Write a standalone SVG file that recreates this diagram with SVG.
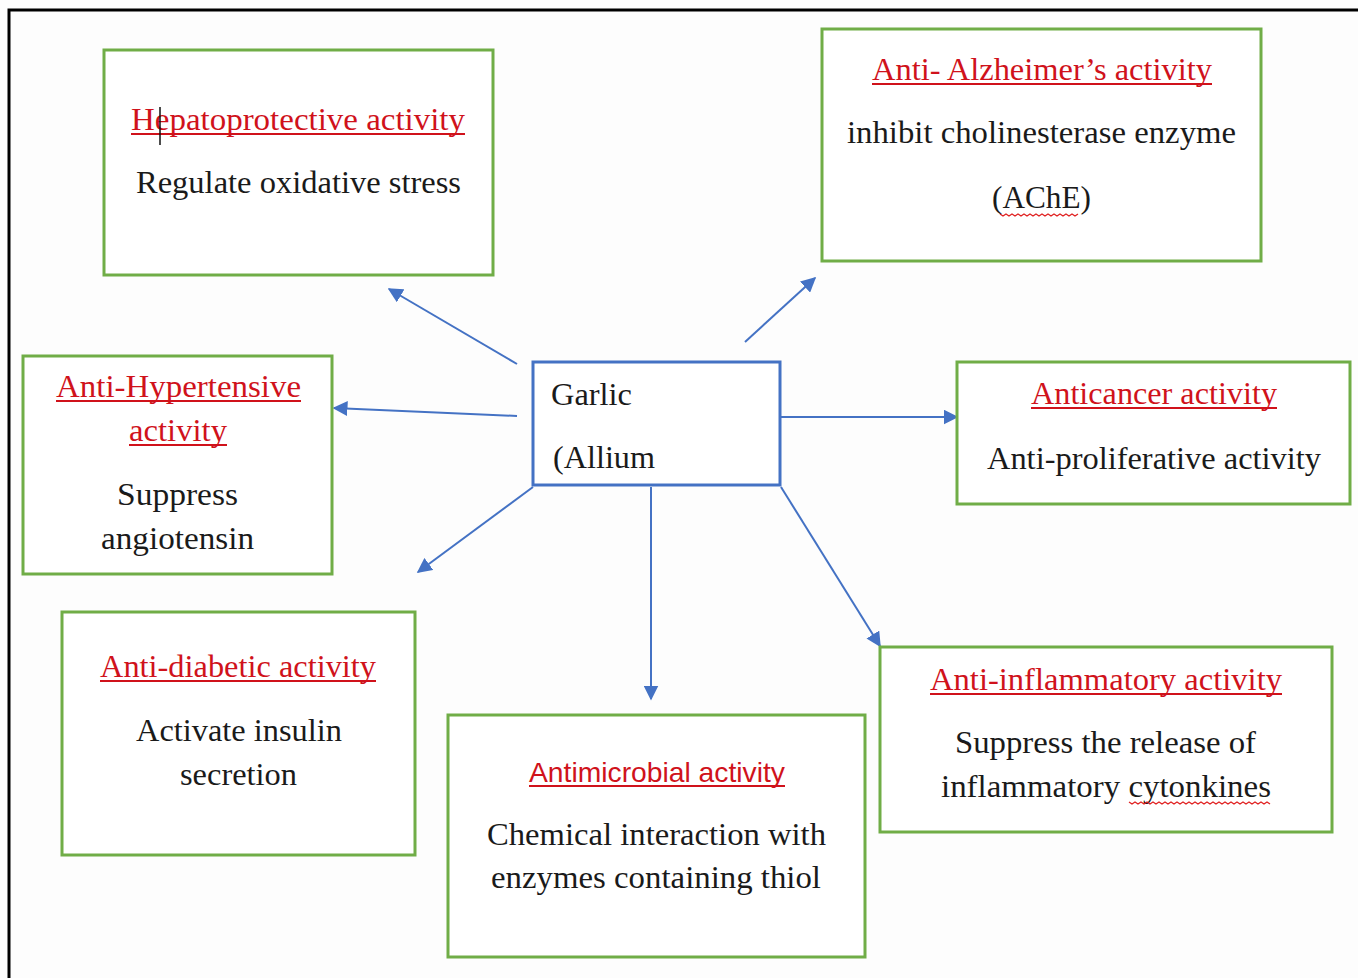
<svg xmlns="http://www.w3.org/2000/svg" width="1358" height="978" viewBox="0 0 1358 978">
<defs>
<style>
.bg{fill:#fdfdfd}
.box{fill:#ffffff;stroke:#70AD47;stroke-width:3}
.core{fill:#ffffff;stroke:#4472C4;stroke-width:3}
.t{font-family:"Liberation Serif","Times New Roman",serif;font-size:31px;fill:#1a1a1a}
.h{font-family:"Liberation Serif","Times New Roman",serif;font-size:31px;fill:#D0121B}
.hs{font-family:"Liberation Sans",Arial,sans-serif;font-size:28px;fill:#D0121B}
.ul{stroke:#D0121B;stroke-width:2;fill:none}
.wavy{stroke:#E02020;stroke-width:1.3;fill:none}
.conn{stroke:#4472C4;stroke-width:2;fill:none}
</style>
<marker id="ah" viewBox="0 0 10 10" refX="9" refY="5" markerWidth="7.5" markerHeight="7.5" markerUnits="strokeWidth" orient="auto">
<path d="M0,0 L10,5 L0,10 z" fill="#4472C4"/>
</marker>
</defs>
<rect class="bg" x="0" y="0" width="1358" height="978"/>
<path d="M9,978 V10 H1358" fill="none" stroke="#000" stroke-width="3"/>

<g id="connectors">
<line class="conn" x1="517" y1="364" x2="389" y2="289" marker-end="url(#ah)"/>
<line class="conn" x1="745" y1="342" x2="815" y2="278" marker-end="url(#ah)"/>
<line class="conn" x1="517" y1="416" x2="334" y2="408" marker-end="url(#ah)"/>
<line class="conn" x1="781" y1="417" x2="957" y2="417" marker-end="url(#ah)"/>
<line class="conn" x1="533" y1="487" x2="418" y2="572" marker-end="url(#ah)"/>
<line class="conn" x1="651" y1="487" x2="651" y2="699" marker-end="url(#ah)"/>
<line class="conn" x1="781" y1="487" x2="880" y2="646" marker-end="url(#ah)"/>
</g>

<g id="hepatoprotective">
<rect class="box" x="104" y="50" width="389" height="225"/>
<text class="h" x="131" y="130" textLength="334" lengthAdjust="spacingAndGlyphs">Hepatoprotective activity</text>
<line class="ul" x1="131" y1="134" x2="465" y2="134"/>
<line x1="160" y1="107" x2="160" y2="145" stroke="#111" stroke-width="1.5"/>
<text class="t" x="136" y="193" textLength="325" lengthAdjust="spacingAndGlyphs">Regulate oxidative stress</text>
</g>

<g id="alzheimer">
<rect class="box" x="822" y="29" width="439" height="232"/>
<text class="h" x="872" y="80" textLength="340" lengthAdjust="spacingAndGlyphs">Anti- Alzheimer’s activity</text>
<line class="ul" x1="872" y1="84" x2="1212" y2="84"/>
<text class="t" x="847" y="143" textLength="389" lengthAdjust="spacingAndGlyphs">inhibit cholinesterase enzyme</text>
<text class="t" x="992" y="208" textLength="99" lengthAdjust="spacingAndGlyphs">(AChE)</text>
<path class="wavy" d="M1000,214 l3,2 l3,-2 l3,2 l3,-2 l3,2 l3,-2 l3,2 l3,-2 l3,2 l3,-2 l3,2 l3,-2 l3,2 l3,-2 l3,2 l3,-2 l3,2 l3,-2 l3,2 l3,-2 l3,2 l3,-2 l3,2 l3,-2 l3,2 l3,-2"/>
</g>

<g id="garlic">
<rect class="core" x="533" y="362" width="247" height="123"/>
<text class="t" x="551" y="405" textLength="81" lengthAdjust="spacingAndGlyphs">Garlic</text>
<text class="t" x="553" y="468" textLength="102" lengthAdjust="spacingAndGlyphs">(Allium</text>
</g>

<g id="antihypertensive">
<rect class="box" x="23" y="356" width="309" height="218"/>
<text class="h" x="56" y="397" textLength="245" lengthAdjust="spacingAndGlyphs">Anti-Hypertensive</text>
<line class="ul" x1="56" y1="401" x2="301" y2="401"/>
<text class="h" x="129" y="441" textLength="98" lengthAdjust="spacingAndGlyphs">activity</text>
<line class="ul" x1="129" y1="445" x2="227" y2="445"/>
<text class="t" x="117" y="505" textLength="121" lengthAdjust="spacingAndGlyphs">Suppress</text>
<text class="t" x="101" y="549" textLength="153" lengthAdjust="spacingAndGlyphs">angiotensin</text>
</g>

<g id="anticancer">
<rect class="box" x="957" y="362" width="393" height="142"/>
<text class="h" x="1031" y="404" textLength="246" lengthAdjust="spacingAndGlyphs">Anticancer activity</text>
<line class="ul" x1="1031" y1="408" x2="1277" y2="408"/>
<text class="t" x="987" y="469" textLength="334" lengthAdjust="spacingAndGlyphs">Anti-proliferative activity</text>
</g>

<g id="antidiabetic">
<rect class="box" x="62" y="612" width="353" height="243"/>
<text class="h" x="100" y="677" textLength="276" lengthAdjust="spacingAndGlyphs">Anti-diabetic activity</text>
<line class="ul" x1="100" y1="681" x2="376" y2="681"/>
<text class="t" x="136" y="741" textLength="206" lengthAdjust="spacingAndGlyphs">Activate insulin</text>
<text class="t" x="180" y="785" textLength="117" lengthAdjust="spacingAndGlyphs">secretion</text>
</g>

<g id="antimicrobial">
<rect class="box" x="448" y="715" width="417" height="242"/>
<text class="hs" x="529" y="782" textLength="256" lengthAdjust="spacingAndGlyphs">Antimicrobial activity</text>
<line class="ul" x1="529" y1="786" x2="785" y2="786"/>
<text class="t" x="487" y="845" textLength="339" lengthAdjust="spacingAndGlyphs">Chemical interaction with</text>
<text class="t" x="491" y="888" textLength="330" lengthAdjust="spacingAndGlyphs">enzymes containing thiol</text>
</g>

<g id="antiinflammatory">
<rect class="box" x="880" y="647" width="452" height="185"/>
<text class="h" x="930" y="690" textLength="352" lengthAdjust="spacingAndGlyphs">Anti-inflammatory activity</text>
<line class="ul" x1="930" y1="694" x2="1282" y2="694"/>
<text class="t" x="955" y="753" textLength="301" lengthAdjust="spacingAndGlyphs">Suppress the release of</text>
<text class="t" x="941" y="797" textLength="330" lengthAdjust="spacingAndGlyphs">inflammatory cytonkines</text>
<path class="wavy" d="M1129,802 l3,2 l3,-2 l3,2 l3,-2 l3,2 l3,-2 l3,2 l3,-2 l3,2 l3,-2 l3,2 l3,-2 l3,2 l3,-2 l3,2 l3,-2 l3,2 l3,-2 l3,2 l3,-2 l3,2 l3,-2 l3,2 l3,-2 l3,2 l3,-2 l3,2 l3,-2 l3,2 l3,-2 l3,2 l3,-2 l3,2 l3,-2 l3,2 l3,-2 l3,2 l3,-2 l3,2 l3,-2 l3,2 l3,-2 l3,2 l3,-2 l3,2 l3,-2 l3,2"/>
</g>
</svg>
